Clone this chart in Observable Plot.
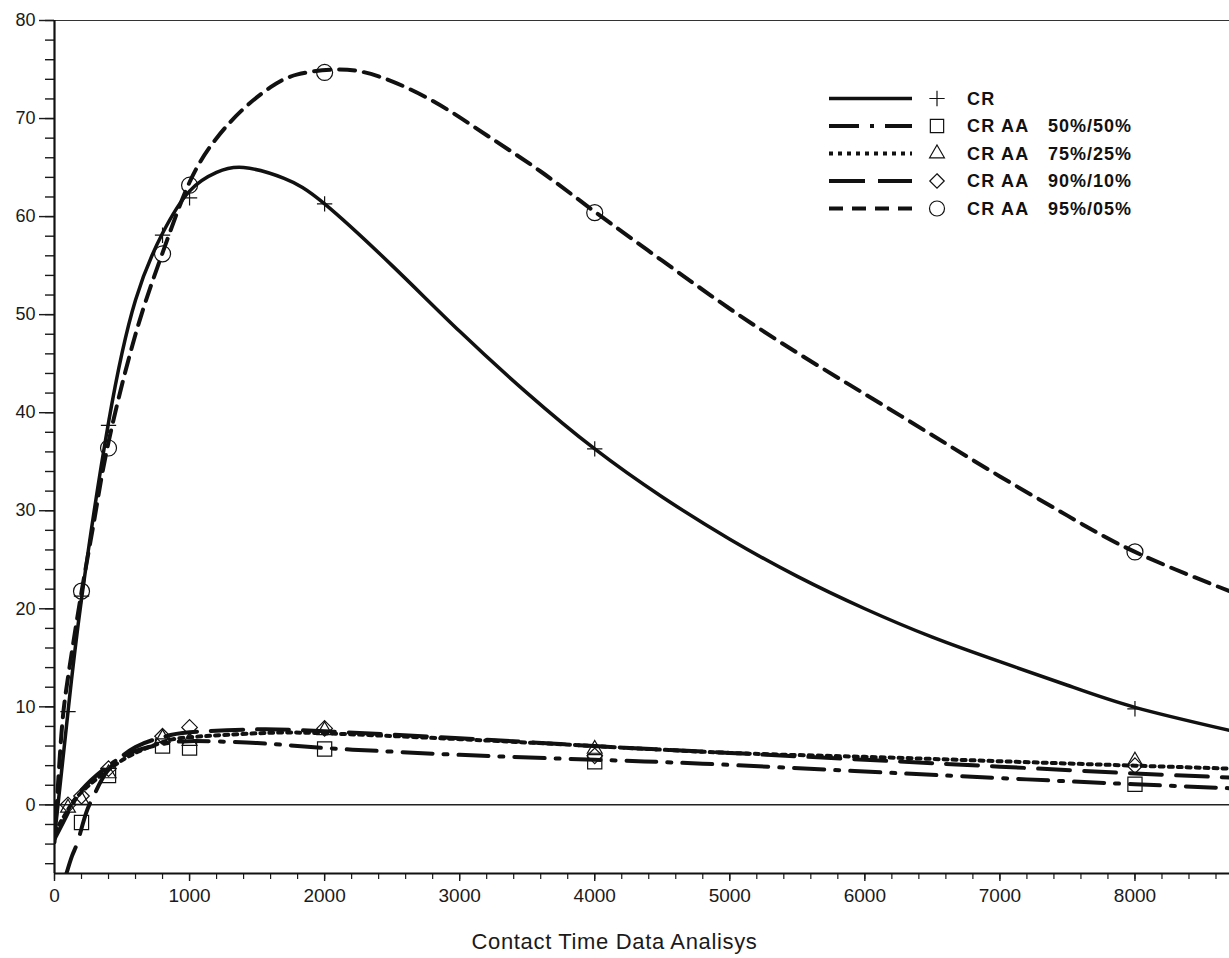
<!DOCTYPE html>
<html><head><meta charset="utf-8">
<script src="https://cdn.jsdelivr.net/npm/d3@7"></script>
<script src="https://cdn.jsdelivr.net/npm/@observablehq/plot@0.6"></script>
<style>
body{margin:0;background:#fff;font-family:"Liberation Sans",Arial,sans-serif;}
#wrap{position:relative;width:1229px;height:958px;}
#legend{position:absolute;left:0;top:0;width:1229px;height:958px;pointer-events:none;}
#xtitle{position:absolute;left:0;width:1229px;top:929px;text-align:center;font:22px "Liberation Sans",Arial,sans-serif;letter-spacing:0.65px;color:#1a1a1a;}
</style></head>
<body><div id="wrap"><div id="chart"></div><svg id="legend"></svg><div id="xtitle"></div></div>
<script>
// ---- series: fitted curves (x, y) ----
const crCurveX  = [0, 100, 200, 400, 600, 800, 1000, 1200, 1400, 1700, 2000, 2500, 3000, 3500, 4000, 4500, 5000, 5500, 6000, 6500, 7000, 7500, 8000, 8700];
const crCurveY  = [-3.3, 9.5, 21, 39, 51.5, 58.3, 62.6, 64.5, 65.0, 63.9, 61.3, 55.0, 48.3, 42.0, 36.3, 31.4, 27.1, 23.3, 20.0, 17.1, 14.6, 12.2, 9.95, 7.6];
const aa95CurveX = [0, 50, 100, 200, 300, 400, 600, 800, 1000, 1200, 1400, 1600, 1800, 2100, 2400, 2800, 3200, 3600, 4000, 4500, 5000, 5500, 6000, 6500, 7000, 7500, 8000, 8700];
const aa95CurveY = [-3.8, 7, 13, 21.7, 29.5, 37, 48, 56.3, 63.5, 68, 71, 73.2, 74.5, 75, 74.3, 71.8, 68.3, 64.6, 60.5, 55.5, 50.6, 46.1, 41.9, 37.7, 33.5, 29.5, 25.8, 21.8];
const aa50CurveX = [0, 100, 200, 400, 600, 800, 1000, 1500, 2000, 2400, 3000, 4000, 4800, 6000, 7200, 8000, 8700];
const aa50CurveY = [-3.5, -0.8, 1.5, 4.0, 5.5, 6.2, 6.5, 6.3, 5.8, 5.5, 5.1, 4.6, 4.2, 3.4, 2.6, 2.1, 1.7];
const aa75CurveX = [0, 100, 200, 400, 600, 800, 1000, 1500, 2000, 3000, 4000, 5000, 6000, 7000, 8000, 8700];
const aa75CurveY = [-2.8, -0.5, 1.3, 3.6, 5.3, 6.4, 6.9, 7.3, 7.3, 6.7, 6.0, 5.3, 4.9, 4.45, 4.0, 3.7];
const aa90CurveX = [80, 130, 173, 235, 300, 400, 600, 800, 1000, 1500, 2000, 3000, 4000, 5000, 6000, 7000, 8000, 8700];
const aa90CurveY = [-7.4, -5.2, -3.7, -0.8, 1.2, 3.6, 5.9, 6.9, 7.4, 7.7, 7.5, 6.8, 6.0, 5.3, 4.6, 3.9, 3.2, 2.8];

// ---- series: measured points ----
const crPtX   = [100, 200, 400, 800, 1000, 2000, 4000, 8000];
const crPtY   = [9.5, 21.3, 38.7, 58.1, 61.9, 61.3, 36.3, 9.8];
const aa50PtX = [200, 400, 800, 1000, 2000, 4000, 8000];
const aa50PtY = [-1.8, 3.0, 6.0, 5.8, 5.7, 4.4, 2.1];
const aa75PtX = [100, 200, 400, 800, 1000, 2000, 4000, 8000];
const aa75PtY = [-0.3, 0.5, 3.2, 6.8, 6.5, 7.6, 5.7, 4.5];
const aa90PtX = [100, 200, 400, 800, 1000, 2000, 4000, 8000];
const aa90PtY = [0.0, 0.9, 3.7, 7.0, 7.9, 7.8, 5.0, 4.0];
const aa95PtX = [200, 400, 800, 1000, 2000, 4000, 8000];
const aa95PtY = [21.8, 36.4, 56.2, 63.2, 74.7, 60.4, 25.8];

// ---- axes ----
const yMajor = [0, 10, 20, 30, 40, 50, 60, 70, 80];
const yMinor = d3.range(-6, 81, 2);
const xMajor = [0, 1000, 2000, 3000, 4000, 5000, 6000, 7000, 8000];
const xMinor = d3.range(0, 8701, 200);
const xTitle = "Contact Time Data Analisys";

const seriesNames = ["CR", "CR AA", "CR AA", "CR AA", "CR AA"];
const seriesRatios = ["", "50%/50%", "75%/25%", "90%/10%", "95%/05%"];
const seriesSymbols = ["plus", "square", "triangle", "diamond2", "circle"];
const seriesDash = [null, "30 11 4 11", "4 5", "32 14", "16 9"];
const legendDash = [null, "30 11 4 11", "4 5", "36 13", "14 9"];
const symbolR = [5, 8, 5.5, 7, 8];

const zip = (xs, ys) => xs.map((x, i) => ({x, y: ys[i]}));
const curves = [zip(crCurveX, crCurveY), zip(aa50CurveX, aa50CurveY), zip(aa75CurveX, aa75CurveY), zip(aa90CurveX, aa90CurveY), zip(aa95CurveX, aa95CurveY)];
const points = [zip(crPtX, crPtY), zip(aa50PtX, aa50PtY), zip(aa75PtX, aa75PtY), zip(aa90PtX, aa90PtY), zip(aa95PtX, aa95PtY)];

const lineMarks = curves.map((c, i) => Plot.line(c, {
  x: "x", y: "y", curve: "natural", stroke: "#111",
  strokeWidth: i === 0 ? 3.5 : 4, strokeDasharray: seriesDash[i], clip: true
}));
const dotMarks = points.map((p, i) => Plot.dot(p, {
  x: "x", y: "y", symbol: seriesSymbols[i], r: symbolR[i],
  stroke: "#111", strokeWidth: 1.2, fill: "none", clip: true
}));

const chart = Plot.plot({
  width: 1229, height: 915,
  marginLeft: 54, marginRight: 0, marginTop: 20, marginBottom: 42,
  x: {domain: [0, 8700]},
  y: {domain: [-7, 80]},
  style: {fontFamily: "Liberation Sans, Arial, sans-serif", fontSize: "18px", color: "#1a1a1a", background: "#fff"},
  marks: [
    Plot.axisY({ticks: yMajor, tickSize: 15, tickPadding: 4, tickFormat: d => String(d), label: null, strokeWidth: 1.4, fontSize: 18}),
    Plot.axisY({ticks: yMinor, tickSize: 9, tickFormat: () => "", label: null, strokeWidth: 1.4}),
    Plot.axisX({ticks: xMajor, tickSize: 8, tickPadding: 7, tickFormat: d => String(d), label: null, strokeWidth: 1.4, fontSize: 19}),
    Plot.axisX({ticks: xMinor, tickSize: 6, tickFormat: () => "", label: null, strokeWidth: 1.2}),
    Plot.ruleY([0], {stroke: "#222", strokeWidth: 1.5}),
    Plot.ruleY([80], {stroke: "#333", strokeWidth: 1.2}),
    Plot.ruleX([0], {stroke: "#111", strokeWidth: 2.2}),
    Plot.ruleY([-7], {stroke: "#111", strokeWidth: 2.2}),
    ...lineMarks,
    ...dotMarks
  ]
});
document.getElementById("chart").appendChild(chart);
document.getElementById("xtitle").textContent = xTitle;

// ---- legend ----
const symMap = {plus: d3.symbolPlus, square: d3.symbolSquare, triangle: d3.symbolTriangle, diamond2: d3.symbolDiamond2, circle: d3.symbolCircle};
const leg = d3.select("#legend");
const rowY = 98.5, rowStep = 27.5;
seriesNames.forEach((name, i) => {
  const y = rowY + i * rowStep;
  const g = leg.append("g");
  g.append("line").attr("x1", 829).attr("x2", 912).attr("y1", y).attr("y2", y)
    .attr("stroke", "#111").attr("stroke-width", i === 0 ? 3.5 : 4)
    .attr("stroke-dasharray", legendDash[i]);
  const r = [5, 7.5, 5.5, 6.5, 7.5][i];
  g.append("path").attr("transform", `translate(937,${y})`)
    .attr("d", d3.symbol(symMap[seriesSymbols[i]], Math.PI * r * r)())
    .attr("fill", "none").attr("stroke", "#111").attr("stroke-width", 1.2);
  g.append("text").attr("x", 967).attr("y", y).attr("dy", "0.36em")
    .attr("font-family", "Liberation Sans, Arial, sans-serif").attr("font-weight", "bold")
    .attr("font-size", 18).attr("letter-spacing", 1.2).attr("fill", "#111").text(name);
  if (seriesRatios[i]) g.append("text").attr("x", 1048).attr("y", y).attr("dy", "0.36em")
    .attr("font-family", "Liberation Sans, Arial, sans-serif").attr("font-weight", "bold")
    .attr("font-size", 18).attr("letter-spacing", 1.0).attr("fill", "#111").text(seriesRatios[i]);
});
</script>
</body></html>
